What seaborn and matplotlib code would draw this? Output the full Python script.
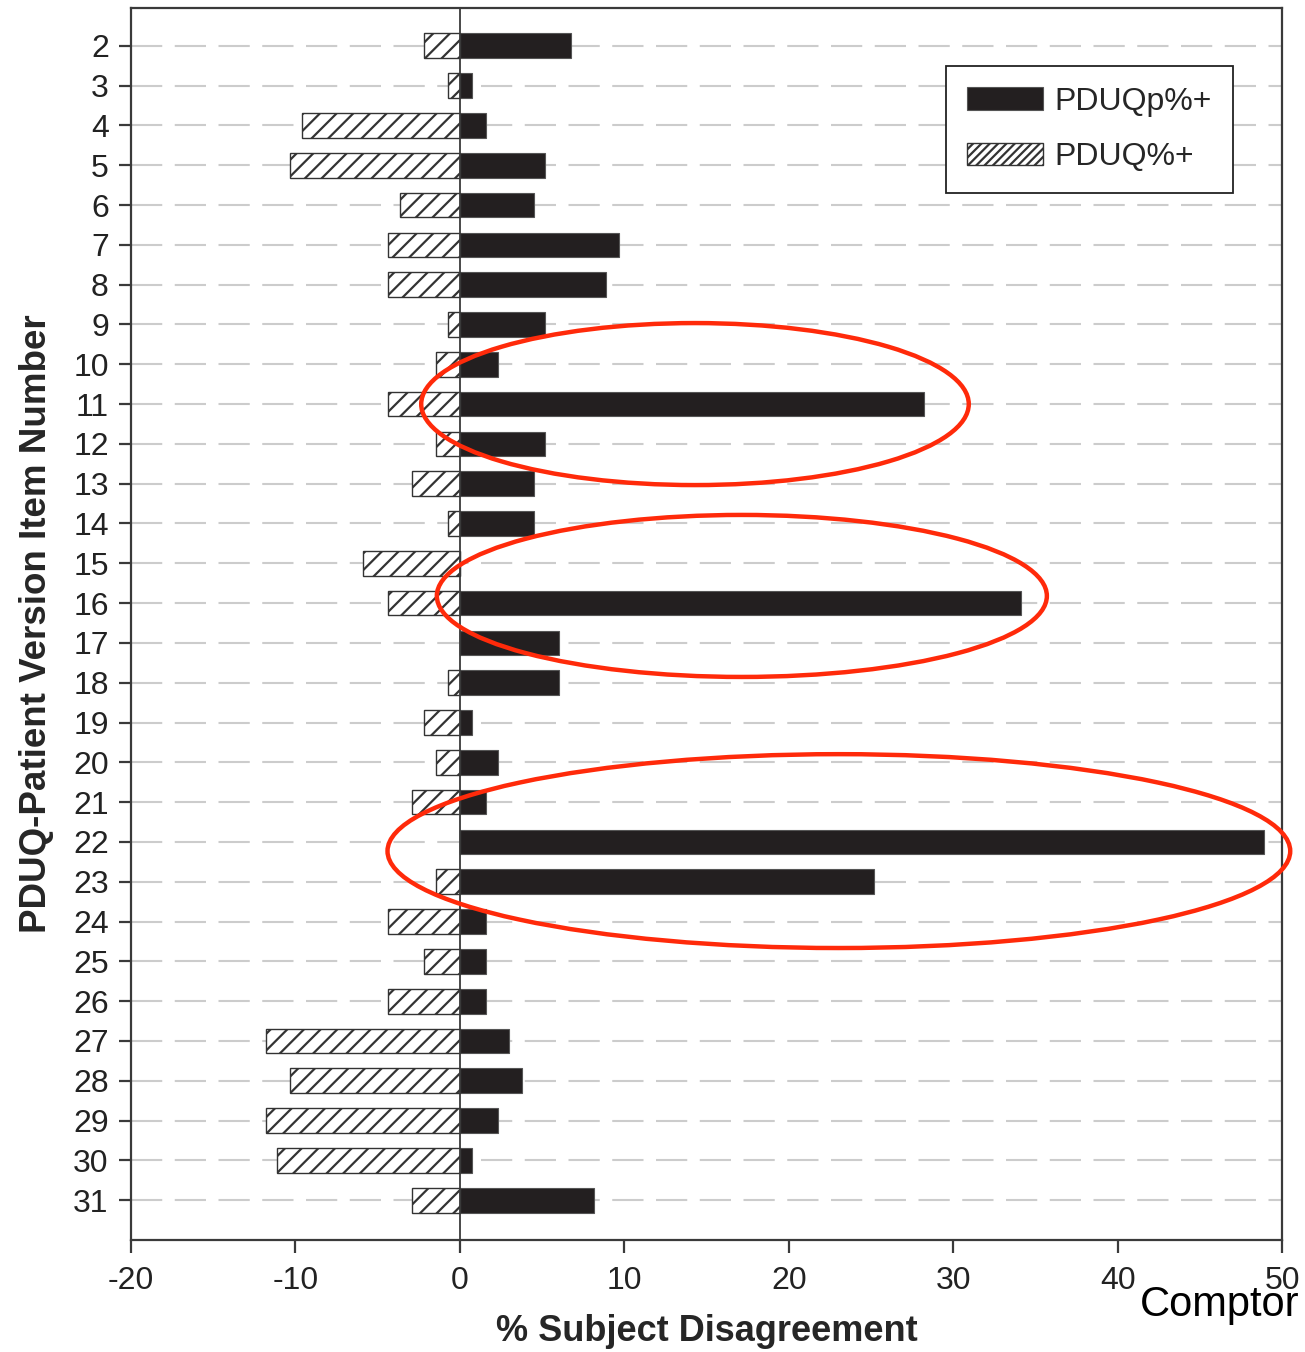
import matplotlib
matplotlib.use("Agg")
import matplotlib.pyplot as plt
from matplotlib.patches import Ellipse, Patch
import pandas as pd
import seaborn as sns

# item numbers on the y axis
items = [str(i) for i in range(2, 32)]

# % subject disagreement, patient version (solid bars)
pduqp_pct = [6.75, 0.73, 1.6, 5.2, 4.5, 9.7, 8.9, 5.2, 2.3, 28.2,
             5.2, 4.5, 4.5, 0.0, 34.1, 6.0, 6.0, 0.73, 2.3, 1.6,
             48.9, 25.2, 1.6, 1.6, 1.6, 3.0, 3.8, 2.3, 0.73, 8.15]

# % subject disagreement, original version (hatched bars, plotted negative)
pduq_pct = [-2.2, -0.73, -9.6, -10.3, -3.65, -4.4, -4.4, -0.73, -1.46, -4.4,
            -1.46, -2.9, -0.73, -5.9, -4.4, 0.0, -0.73, -2.2, -1.46, -2.9,
            0.0, -1.46, -4.4, -2.2, -4.4, -11.8, -10.3, -11.8, -11.1, -2.9]

series_names = ["PDUQp%+", "PDUQ%+"]
x_ticks = [-20, -10, 0, 10, 20, 30, 40, 50]

# red ellipses drawn on the original figure: (x centre, row centre, width, rows tall)
highlights = [(14.3, 9.0, 33.3, 4.07), (17.15, 13.82, 37.1, 4.07), (23.05, 20.23, 54.9, 4.87)]

df = pd.DataFrame({"item": items, "pduqp": pduqp_pct, "pduq": pduq_pct})

sns.set_theme(style="white")
plt.rcParams["font.family"] = ["Liberation Sans", "DejaVu Sans"]
plt.rcParams["axes.unicode_minus"] = False
plt.rcParams["hatch.linewidth"] = 1.6
plt.rcParams["hatch.color"] = "#231f20"

fig = plt.figure(figsize=(13.05, 13.52), dpi=100)
ax = fig.add_axes([131 / 1305, 1 - 1240 / 1352, 1151 / 1305, 1232 / 1352])

ink = "#231f20"
axis_grey = "#3a3a3a"

sns.barplot(data=df, x="pduqp", y="item", order=items, orient="h", color=ink,
            saturation=1, width=0.62, edgecolor="#555555", linewidth=0.8, ax=ax, zorder=3)
sns.barplot(data=df, x="pduq", y="item", order=items, orient="h", color="white",
            saturation=1, width=0.62, edgecolor="#333333", linewidth=1.0, hatch="//",
            ax=ax, zorder=3)

ax.set_xlim(-20, 50)
ax.set_ylim(30.0, -0.95)
ax.set_xticks(x_ticks)
ax.set_xticklabels([str(t) for t in x_ticks])

# dashed row lines
for i in range(len(items)):
    ax.axhline(i, color="#cccccc", lw=1.5, ls=(0, (15, 6)), zorder=1)
ax.axvline(0, color=axis_grey, lw=1.3, zorder=4)

for s in ax.spines.values():
    s.set_color(axis_grey)
    s.set_linewidth(1.6)
    s.set_visible(True)

ax.tick_params(axis="both", which="both", direction="out", length=9, width=1.6,
               color=axis_grey, labelcolor="#222222", labelsize=23)
ax.tick_params(axis="x", pad=10, bottom=True)
ax.tick_params(axis="y", pad=7, left=True)
ax.set_yticks([-0.95, 30.0], minor=True)

ax.set_xlabel("% Subject Disagreement", fontsize=26, fontweight="bold", labelpad=13)
ax.set_ylabel("PDUQ-Patient Version Item Number", fontsize=26.5, fontweight="bold", labelpad=14)

handles = [Patch(facecolor=ink, edgecolor="#555555", lw=0.8),
           Patch(facecolor="white", edgecolor="#333333", lw=1.0, hatch="////")]
leg = ax.legend(handles, series_names, loc="upper left", bbox_to_anchor=(0.708, 0.953),
                fontsize=23, frameon=True, fancybox=False, framealpha=1,
                handlelength=2.4, handleheight=0.72, handletextpad=0.35,
                borderpad=0.65, labelspacing=0.8, borderaxespad=0)
leg.get_frame().set_edgecolor("#222222")
leg.get_frame().set_linewidth(1.3)

# red highlight ellipses
for cx, cy, w, h in highlights:
    ell = Ellipse((cx, cy), w, h, fill=False, edgecolor="#ff2a0a", lw=3.2,
                  zorder=6, clip_on=False)
    ax.add_patch(ell)

fig.text(1140 / 1305, 1 - 1305 / 1352, "Comptor", fontsize=30, color="black",
         va="center", ha="left")

fig.savefig("out.png", dpi=100)
